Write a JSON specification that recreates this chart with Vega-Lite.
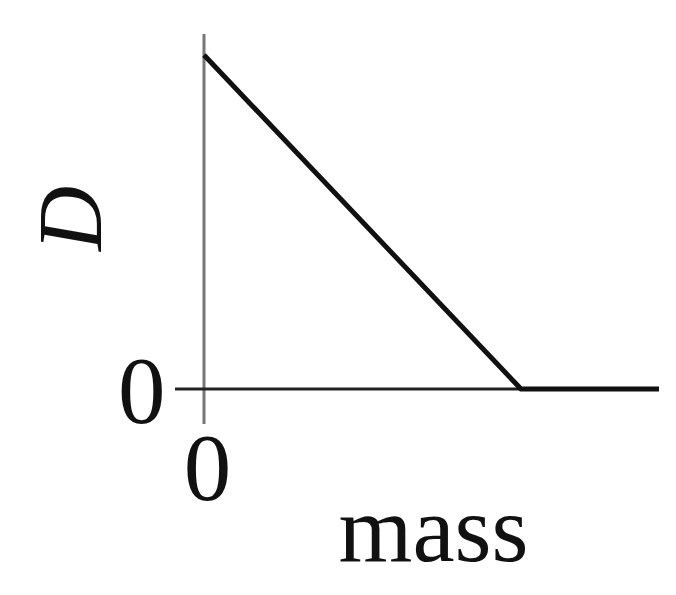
{
  "$schema": "https://vega.github.io/schema/vega-lite/v6.json",
  "autosize": "none",
  "padding": {"left": 175, "top": 34, "right": 17, "bottom": 171},
  "width": 484,
  "height": 390,
  "background": "white",
  "config": {"view": {"stroke": null}},
  "datasets": {
    "curve": [
      {"mass": 0, "D": 334},
      {"mass": 317, "D": 0},
      {"mass": 455, "D": 0}
    ],
    "yaxis": [{"mass": 0, "D": -35, "D2": 355}],
    "xaxis": [{"mass": -29, "mass2": 455, "D": 0}]
  },
  "layer": [
    {
      "data": {"name": "yaxis"},
      "mark": {"type": "rule", "color": "#777777", "strokeWidth": 3},
      "encoding": {
        "x": {"field": "mass", "type": "quantitative", "scale": {"domain": [-29, 455], "nice": false, "zero": false},
          "axis": {"values": [0], "title": "mass", "domain": false, "ticks": false, "grid": false,
            "labelFont": "Liberation Serif", "labelFontSize": 95, "labelColor": "#111", "labelPadding": 0, "labelOffset": 3,
            "titleFont": "Liberation Serif", "titleFontSize": 95, "titleFontWeight": "normal", "titleColor": "#111",
            "titleX": 258, "titleY": 136, "titleBaseline": "alphabetic", "titleAlign": "center"}},
        "y": {"field": "D", "type": "quantitative", "scale": {"domain": [-35, 355], "nice": false, "zero": false},
          "axis": {"values": [0], "title": "D", "domain": false, "ticks": false, "grid": false,
            "labelFont": "Liberation Serif", "labelFontSize": 95, "labelColor": "#111", "labelPadding": 10, "labelOffset": 4,
            "titleFont": "Liberation Serif", "titleFontSize": 90, "titleFontWeight": "normal", "titleFontStyle": "italic", "titleColor": "#111",
            "titleX": -75, "titleY": 184, "titleBaseline": "alphabetic", "titleAlign": "center", "titleAngle": -90}},
        "y2": {"field": "D2"}
      }
    },
    {
      "data": {"name": "xaxis"},
      "mark": {"type": "rule", "color": "#222222", "strokeWidth": 3},
      "encoding": {
        "x": {"field": "mass", "type": "quantitative"},
        "x2": {"field": "mass2"},
        "y": {"field": "D", "type": "quantitative"}
      }
    },
    {
      "data": {"name": "curve"},
      "mark": {"type": "line", "color": "#111111", "strokeWidth": 5},
      "encoding": {
        "x": {"field": "mass", "type": "quantitative"},
        "y": {"field": "D", "type": "quantitative"}
      }
    }
  ]
}
